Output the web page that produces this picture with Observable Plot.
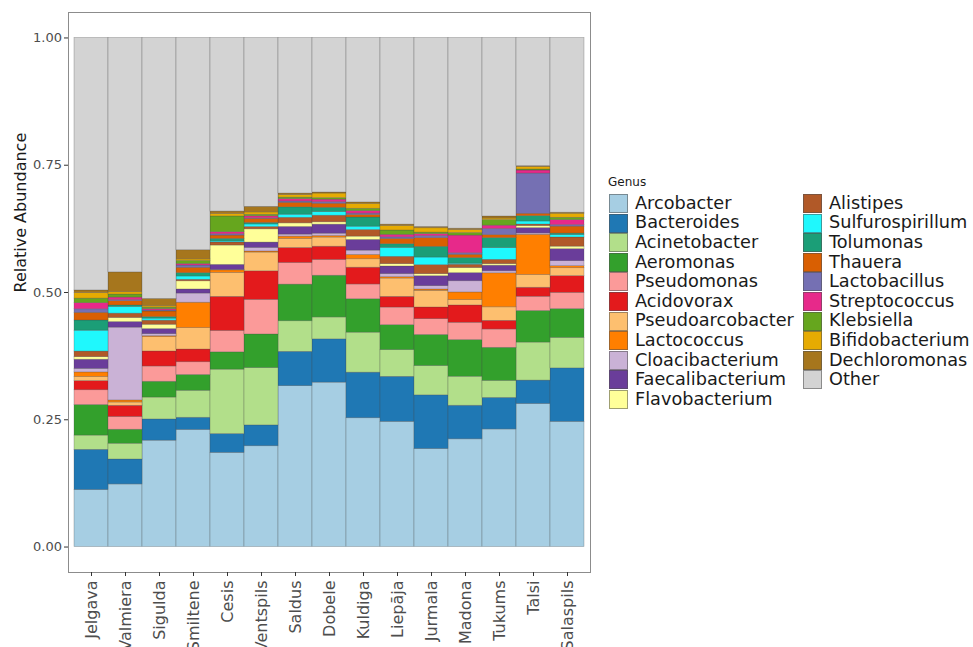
<!DOCTYPE html>
<html>
<head>
<meta charset="utf-8">
<script src="https://cdn.jsdelivr.net/npm/d3@7"></script>
<script src="https://cdn.jsdelivr.net/npm/@observablehq/plot@0.6"></script>
<style>
  html, body { margin: 0; padding: 0; background: #fff; }
  #chart { position: relative; width: 973px; height: 647px; overflow: hidden;
           font-family: "DejaVu Sans", sans-serif; }
  #chart > svg { position: absolute; left: 0; top: 0; }
  .legend-title { position: absolute; font-size: 12px; color: #1a1a1a; line-height: 1; }
  .swatch { position: absolute; width: 19px; height: 19px; box-sizing: border-box;
            border: 0.6px solid rgba(80,80,80,0.55); }
  .legend-label { position: absolute; font-size: 17.7px; color: #1a1a1a; line-height: 19.6px;
                  white-space: nowrap; }
</style>
</head>
<body>
<div id="chart"></div>
<script>
// Sampling sites (x axis order)
const sites = ["Jelgava", "Valmiera", "Sigulda", "Smiltene", "Cesis", "Ventspils", "Saldus",
  "Dobele", "Kuldiga", "Liepāja", "Jurmala", "Madona", "Tukums", "Talsi", "Salaspils"];

// Relative abundance of each genus per site (same order as sites)
const arcobacter       = [0.112, 0.123, 0.209, 0.230, 0.185, 0.198, 0.316, 0.323, 0.253, 0.246, 0.1925, 0.2116, 0.231, 0.281, 0.246];
const bacteroides      = [0.079, 0.049, 0.0417, 0.024, 0.037, 0.041, 0.0675, 0.085, 0.0896, 0.0884, 0.1055, 0.066, 0.062, 0.046, 0.105];
const acinetobacter    = [0.028, 0.031, 0.043, 0.053, 0.1265, 0.1126, 0.060, 0.043, 0.0786, 0.0524, 0.0576, 0.057, 0.0334, 0.0747, 0.060];
const aeromonas        = [0.060, 0.0275, 0.031, 0.031, 0.034, 0.066, 0.072, 0.082, 0.0656, 0.049, 0.061, 0.072, 0.065, 0.062, 0.0564];
const pseudomonas      = [0.029, 0.025, 0.030, 0.025, 0.042, 0.068, 0.0425, 0.031, 0.029, 0.0347, 0.031, 0.034, 0.036, 0.028, 0.032];
const acidovorax       = [0.018, 0.022, 0.0295, 0.025, 0.067, 0.056, 0.0295, 0.026, 0.033, 0.021, 0.023, 0.034, 0.017, 0.0177, 0.0328];
const pseudoarcobacter = [0.008, 0.0065, 0.028, 0.042, 0.047, 0.037, 0.0177, 0.018, 0.0165, 0.036, 0.0327, 0.0105, 0.0265, 0.025, 0.0155];
const lactococcus      = [0.009, 0.004, 0.002, 0.050, 0.005, 0.002, 0.0046, 0.003, 0.0085, 0.0026, 0.0026, 0.015, 0.0668, 0.079, 0.004];
const cloacibacterium  = [0.007, 0.143, 0.004, 0.018, 0.001, 0.007, 0.004, 0.0046, 0.0085, 0.006, 0.0065, 0.022, 0.004, 0.0026, 0.0098];
const faecalibacterium = [0.018, 0.011, 0.010, 0.008, 0.0098, 0.0105, 0.015, 0.0177, 0.021, 0.015, 0.0196, 0.016, 0.011, 0.0105, 0.0236];
const flavobacterium   = [0.005, 0.008, 0.0085, 0.016, 0.038, 0.026, 0.007, 0.0046, 0.0065, 0.0046, 0.004, 0.010, 0.003, 0.004, 0.005];
const alistipes        = [0.011, 0.0085, 0.008, 0.003, 0.006, 0.0046, 0.011, 0.013, 0.013, 0.0144, 0.0177, 0.0065, 0.0085, 0.003, 0.018];
const sulfurospirillum = [0.041, 0.013, 0.004, 0.0065, 0.002, 0.005, 0.006, 0.007, 0.0065, 0.0177, 0.015, 0.002, 0.023, 0.006, 0.0046];
const tolumonas        = [0.020, 0.003, 0.003, 0.0065, 0.005, 0.003, 0.0144, 0.0085, 0.018, 0.007, 0.021, 0.011, 0.0196, 0.0105, 0.003];
const thauera          = [0.015, 0.0085, 0.011, 0.0105, 0.0065, 0.008, 0.009, 0.008, 0.005, 0.0105, 0.017, 0.0065, 0.006, 0.0046, 0.0137];
const lactobacillus    = [0.007, 0.002, 0.002, 0.0045, 0.0026, 0.001, 0.0026, 0.003, 0.0026, 0.003, 0.004, 0.003, 0.012, 0.079, 0.003];
const streptococcus    = [0.012, 0.005, 0.0026, 0.003, 0.004, 0.004, 0.0046, 0.005, 0.005, 0.005, 0.004, 0.0347, 0.0065, 0.006, 0.0098];
const klebsiella       = [0.009, 0.006, 0.003, 0.006, 0.031, 0.003, 0.003, 0.003, 0.0046, 0.0085, 0.003, 0.005, 0.011, 0.002, 0.0046];
const bifidobacterium  = [0.011, 0.0045, 0.0026, 0.003, 0.005, 0.0046, 0.005, 0.009, 0.0098, 0.009, 0.0085, 0.006, 0.003, 0.0046, 0.008];
const dechloromonas    = [0.005, 0.039, 0.0145, 0.018, 0.0046, 0.011, 0.003, 0.002, 0.0026, 0.0026, 0.0026, 0.0026, 0.004, 0.002, 0.002];
const other            = [0.496, 0.4605, 0.5126, 0.417, 0.341, 0.3317, 0.3056, 0.3036, 0.3231, 0.3666, 0.3712, 0.3746, 0.3507, 0.2518, 0.3432];

// Genera in stacking order (bottom to top) and their fills
const genera = ["Arcobacter", "Bacteroides", "Acinetobacter", "Aeromonas", "Pseudomonas", "Acidovorax",
  "Pseudoarcobacter", "Lactococcus", "Cloacibacterium", "Faecalibacterium", "Flavobacterium",
  "Alistipes", "Sulfurospirillum", "Tolumonas", "Thauera", "Lactobacillus", "Streptococcus",
  "Klebsiella", "Bifidobacterium", "Dechloromonas", "Other"];
const generaValues = [arcobacter, bacteroides, acinetobacter, aeromonas, pseudomonas, acidovorax,
  pseudoarcobacter, lactococcus, cloacibacterium, faecalibacterium, flavobacterium,
  alistipes, sulfurospirillum, tolumonas, thauera, lactobacillus, streptococcus,
  klebsiella, bifidobacterium, dechloromonas, other];
const palette = ["#a6cee3", "#1f78b4", "#b2df8a", "#33a02c", "#fb9a99", "#e31a1c",
  "#fdbf6f", "#ff7f00", "#cab2d6", "#6a3d9a", "#ffff99",
  "#b15928", "#1ff8fd", "#1b9e77", "#d95f02", "#7570b3", "#e7298a",
  "#66a61e", "#e6ab02", "#a6761d", "#d3d3d3"];

const yTicks = [0, 0.25, 0.5, 0.75, 1];
const yTitle = "Relative Abundance";
const legendTitle = "Genus";

// Long-format table for the stacked bars
const rows = [];
genera.forEach((g, gi) => {
  sites.forEach((s, si) => rows.push({site: s, genus: g, value: generaValues[gi][si]}));
});

const plot = Plot.plot({
  width: 973,
  height: 647,
  marginLeft: 68,
  marginRight: 383,
  marginTop: 12,
  marginBottom: 75,
  style: {fontFamily: "DejaVu Sans, sans-serif", background: "transparent"},
  x: {domain: sites, paddingInner: 0, paddingOuter: 0.1, label: null},
  y: {domain: [-0.05, 1.05], label: null},
  color: {domain: genera, range: palette},
  marks: [
    Plot.barY(rows, {
      x: "site", y: "value", fill: "genus", z: "genus", order: genera,
      stroke: "#4a4a4a", strokeOpacity: 0.45, strokeWidth: 0.6
    }),
    Plot.frame({stroke: "#8c8c8c", strokeWidth: 1}),
    Plot.axisY({
      ticks: yTicks, tickFormat: d => d.toFixed(2), tickSize: 4, tickPadding: 2.5,
      fontSize: 13, fill: "#4d4d4d", stroke: "#333", label: null
    }),
    Plot.axisX({
      tickRotate: -90, tickSize: 4, tickPadding: 4, fontSize: 16,
      fill: "#4d4d4d", stroke: "#333", label: null
    }),
    Plot.text([yTitle], {
      frameAnchor: "left", rotate: -90, dx: -48, fontSize: 16, fill: "#1a1a1a", text: d => d
    })
  ]
});

const chart = document.getElementById("chart");
chart.appendChild(plot);

// Legend to the right of the panel, two columns
const title = document.createElement("div");
title.className = "legend-title";
title.textContent = legendTitle;
title.style.left = "608px";
title.style.top = "176px";
chart.appendChild(title);

const perColumn = 11;
genera.forEach((g, i) => {
  const col = Math.floor(i / perColumn);
  const row = i % perColumn;
  const top = 194 + row * 19.6;
  const sw = document.createElement("div");
  sw.className = "swatch";
  sw.style.left = (col === 0 ? 609 : 803) + "px";
  sw.style.top = top + "px";
  sw.style.background = palette[i];
  chart.appendChild(sw);
  const lab = document.createElement("div");
  lab.className = "legend-label";
  lab.style.left = (col === 0 ? 635 : 829) + "px";
  lab.style.top = (top - 0.3) + "px";
  lab.textContent = g;
  chart.appendChild(lab);
});
</script>
</body>
</html>
